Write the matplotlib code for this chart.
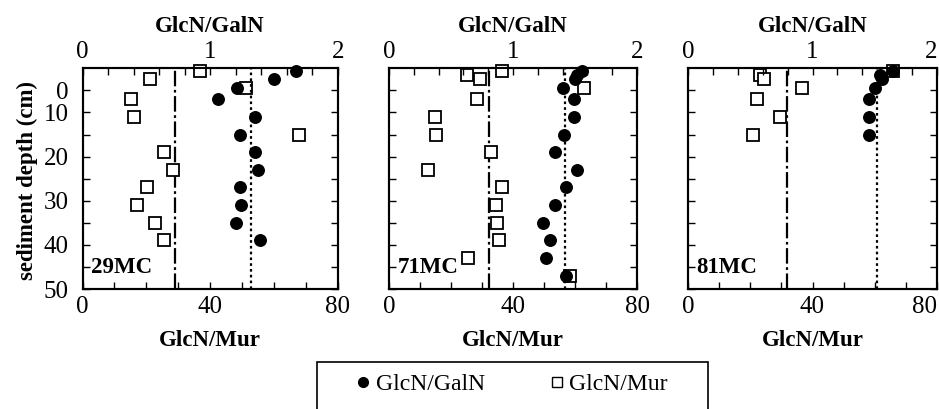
import numpy as np
import matplotlib
matplotlib.use('Agg')
import matplotlib.pyplot as plt
from matplotlib.lines import Line2D
from matplotlib.patches import Rectangle
from matplotlib.ticker import MultipleLocator

plt.rcParams['font.family'] = ['Liberation Serif', 'DejaVu Serif']
plt.rcParams['font.size'] = 16.5

# donnees
cores = ['29MC', '71MC', '81MC']

depth_29 = [0.5, 2.5, 4.5, 7, 11, 15, 19, 23, 27, 31, 35, 39]
galn_29 = [1.67, 1.50, 1.21, 1.06, 1.35, 1.23, 1.35, 1.37, 1.23, 1.24, 1.20, 1.39]
mur_29 = [36.8, 21.2, 51.2, 15.1, 16.0, 67.9, 25.4, 28.3, 20.2, 17.2, 22.8, 25.4]

depth_71 = [0.5, 1.5, 2.5, 4.5, 7, 11, 15, 19, 23, 27, 31, 35, 39, 43, 47]
galn_71 = [1.56, 1.52, 1.50, 1.40, 1.49, 1.49, 1.41, 1.34, 1.52, 1.43, 1.34, 1.24, 1.30, 1.27, 1.43]
mur_71 = [36.3, 25.0, 29.5, 63.0, 28.5, 14.8, 15.3, 33.0, 12.5, 36.5, 34.4, 34.9, 35.4, 25.6, 58.5]

depth_81 = [0.5, 1.5, 2.5, 4.5, 7, 11, 15]
galn_81 = [1.65, 1.54, 1.56, 1.50, 1.45, 1.45, 1.45]
mur_81 = [66.0, 23.0, 24.5, 36.6, 22.2, 29.4, 20.8]

depths = [depth_29, depth_71, depth_81]
galn = [galn_29, galn_71, galn_81]
mur = [mur_29, mur_71, mur_81]

ytick_pos = [5, 10, 15, 20, 25, 30, 35, 40, 45, 50]
ytick_lab = ['0', '10', '', '20', '', '30', '', '40', '', '50']

W, H = 939, 409
fig = plt.figure(figsize=(W / 100, H / 100), dpi=100)

# position des panneaux en pixels (gauche, droite), haut 68, bas 289
panneaux = [(82.5, 338), (389, 637), (688, 937)]
haut, bas = 68.3, 289
taille_ticks = 18

for i in range(3):
    x0, x1 = panneaux[i]
    ax = fig.add_axes([x0 / W, (H - bas) / H, (x1 - x0) / W, (bas - haut) / H])
    ax2 = ax.twiny()

    # GlcN/Mur (carres) sur l'axe du bas
    ax.plot(mur[i], depths[i], ls='none', marker='s', ms=8.5, mfc='white',
            mec='black', mew=1.3, clip_on=False, zorder=3)
    ax.axvline(np.mean(mur[i]), color='black', lw=1.6, ls=(0, (7, 1.6, 1.2, 1.6)))

    # GlcN/GalN (ronds) sur l'axe du haut
    ax2.plot(galn[i], depths[i], ls='none', marker='o', ms=8.3, mfc='black',
             mec='black', clip_on=False, zorder=4)
    ax2.axvline(np.mean(galn[i]), color='black', lw=1.6, ls=(0, (1.2, 1.4)))

    ax.set_xlim(0, 80)
    ax.set_ylim(50, 0)
    ax2.set_xlim(0, 2)

    ax.set_xticks([0, 40, 80])
    ax.xaxis.set_minor_locator(MultipleLocator(10))
    ax2.set_xticks([0, 1, 2])
    ax2.xaxis.set_minor_locator(MultipleLocator(0.2))
    ax.set_yticks(ytick_pos)
    ax.set_yticklabels(ytick_lab)

    ax.tick_params(axis='x', which='both', direction='in', length=5, width=1, top=False,
                   pad=5, labelsize=taille_ticks)
    ax2.tick_params(axis='x', which='both', direction='in', length=5, width=1, bottom=False,
                    pad=4, labelsize=taille_ticks)
    ax.tick_params(axis='y', which='both', direction='in', length=5, width=1,
                   left=True, right=True, labelleft=(i == 0), pad=10, labelsize=taille_ticks)

    if i == 2:
        # dernier libelle decale vers la gauche pour rester dans l'image
        ax.get_xticklabels()[-1].set_ha('right')
        ax2.get_xticklabels()[-1].set_ha('right')

    for a in (ax, ax2):
        for s in a.spines.values():
            s.set_linewidth(1.5)

    ax.set_xlabel('GlcN/Mur', fontweight='bold', labelpad=9)
    ax2.set_xlabel('GlcN/GalN', fontweight='bold', labelpad=6)
    ax.text(0.035, 0.05, cores[i], transform=ax.transAxes, fontweight='bold',
            ha='left', va='bottom', zorder=5)

fig.text(27 / W, 1 - 180 / H, 'sediment depth (cm)', rotation=90, fontweight='bold',
         ha='center', va='center')

# legende
cadre = Rectangle((317 / W, -0.05), (708 - 317) / W, 1 - 362 / H + 0.05,
                  transform=fig.transFigure, fill=False, ec='black', lw=1.2, clip_on=False)
fig.patches.append(cadre)
poignees = [Line2D([], [], ls='none', marker='o', ms=7, mfc='black', mec='black'),
            Line2D([], [], ls='none', marker='s', ms=7, mfc='white', mec='black', mew=1)]
fig.legend(poignees, ['GlcN/GalN', 'GlcN/Mur'], ncol=2, frameon=False, fontsize=17,
           loc='center left', bbox_to_anchor=(342 / W, 1 - 384 / H),
           borderpad=0, handlelength=0.8, handletextpad=0.12, columnspacing=2.65)

fig.savefig('out.png', dpi=100)
